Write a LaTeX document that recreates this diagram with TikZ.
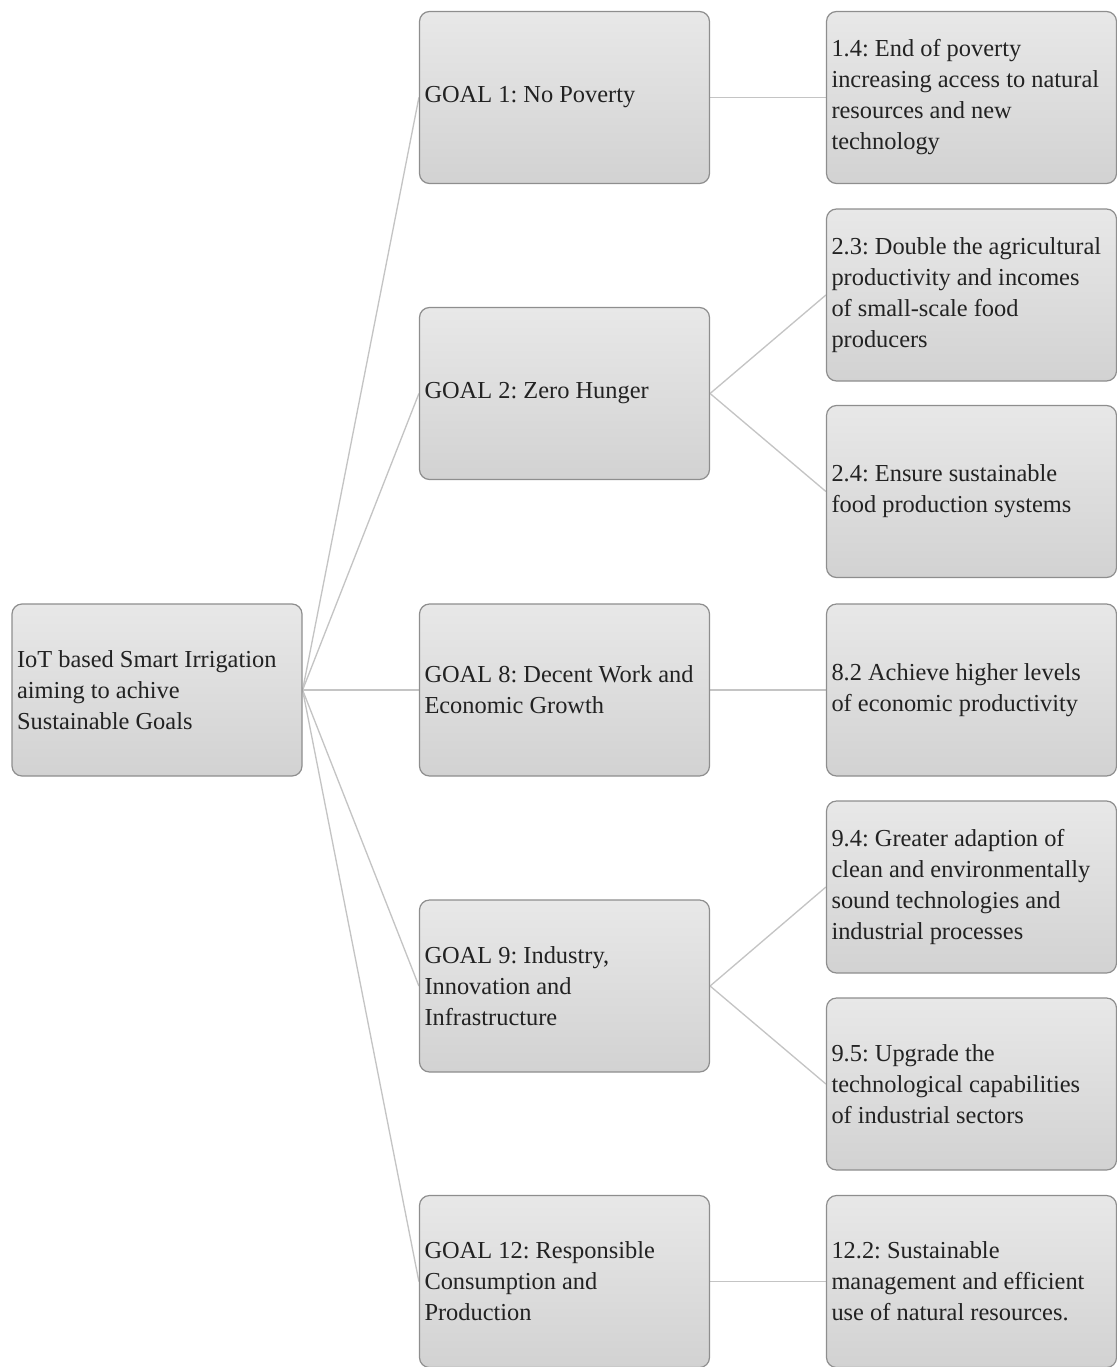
\documentclass[tikz,border=0pt]{standalone}
\usepackage{fontspec}
\setmainfont{Liberation Serif}
\usetikzlibrary{backgrounds}
\definecolor{boxborder}{HTML}{8E8E8E}
\definecolor{boxtop}{HTML}{E8E8E8}
\definecolor{boxbot}{HTML}{D2D2D2}
\definecolor{linkcol}{HTML}{C4C4C4}
\definecolor{txt}{HTML}{222222}
\tikzset{
  sbox/.style={draw=boxborder, line width=0.9pt, rounded corners=7.5pt,
    top color=boxtop, bottom color=boxbot,
    minimum height=129pt, text width=210pt, inner xsep=3.75pt, inner ysep=0pt,
    align=flush left, text=txt, anchor=center,
    font=\fontsize{18.3pt}{23.25pt}\selectfont\frenchspacing},
  link/.style={draw=linkcol, line width=1pt}
}
\begin{document}
\begin{tikzpicture}[x=0.75pt, y=-0.75pt]
\useasboundingbox (0,0) rectangle (1117,1367);
\node[sbox] (root) at (157,690) {IoT based Smart Irrigation\\aiming to achive\\Sustainable Goals};
\node[sbox] (g1) at (564.5,97.5) {GOAL 1: No Poverty};
\node[sbox] (g2) at (564.5,393.5) {GOAL 2: Zero Hunger};
\node[sbox] (g8) at (564.5,690) {GOAL 8: Decent Work and\\Economic Growth};
\node[sbox] (g9) at (564.5,986) {GOAL 9: Industry,\\Innovation and\\Infrastructure};
\node[sbox] (g12) at (564.5,1281.5) {GOAL 12: Responsible\\Consumption and\\Production};
\node[sbox] (t14) at (971.5,97.5) {1.4: End of poverty\\increasing access to natural\\resources and new\\technology};
\node[sbox] (t23) at (971.5,295) {2.3: Double the agricultural\\productivity and incomes\\of small-scale food\\producers};
\node[sbox] (t24) at (971.5,491.5) {2.4: Ensure sustainable\\food production systems};
\node[sbox] (t82) at (971.5,690) {8.2 Achieve higher levels\\of economic productivity};
\node[sbox] (t94) at (971.5,887) {9.4: Greater adaption of\\clean and environmentally\\sound technologies and\\industrial processes};
\node[sbox] (t95) at (971.5,1084) {9.5: Upgrade the\\technological capabilities\\of industrial sectors};
\node[sbox] (t122) at (971.5,1281.5) {12.2: Sustainable\\management and efficient\\use of natural resources.};
\begin{scope}[on background layer]
\foreach \g in {g1,g2,g8,g9,g12} \draw[link] (root.east) -- (\g.west);
\draw[link] (g1.east) -- (t14.west);
\draw[link] (g2.east) -- (t23.west);
\draw[link] (g2.east) -- (t24.west);
\draw[link] (g8.east) -- (t82.west);
\draw[link] (g9.east) -- (t94.west);
\draw[link] (g9.east) -- (t95.west);
\draw[link] (g12.east) -- (t122.west);
\end{scope}
\end{tikzpicture}
\end{document}
